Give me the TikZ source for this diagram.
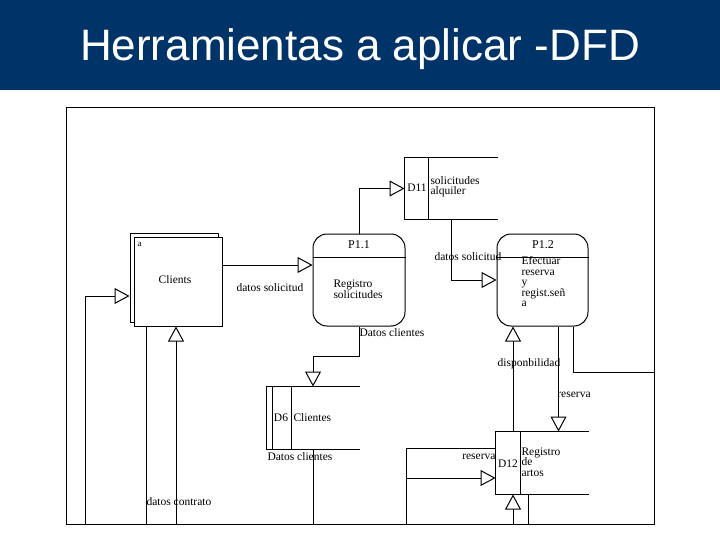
\documentclass[tikz,border=0pt]{standalone}
\usepackage{fontspec}
\setmainfont{Liberation Serif}
\newfontfamily\titlefont{Liberation Sans}
\usetikzlibrary{arrows.meta}
\definecolor{titleblue}{RGB}{0,52,104}

\begin{document}
\begin{tikzpicture}[x=1pt,y=-1pt,line width=1pt,
    proc/.style={draw,rounded corners=14pt,minimum width=92pt,minimum height=92pt,inner sep=0pt},
    store/.style={inner sep=0pt,minimum width=92pt,minimum height=62pt},
    entity/.style={draw,fill=white,minimum width=88pt,minimum height=89pt,inner sep=0pt},
    flow/.style={-{Triangle[open,length=15pt,width=16pt]}},
    lbl/.style={font=\fontsize{11.5}{10.5}\selectfont,inner sep=0pt,align=left}]
  \useasboundingbox (0,0) rectangle (720,540);
  \fill[titleblue] (0,0) rectangle (720,90);
  \node[text=white,font=\titlefont\fontsize{44}{48}\selectfont,anchor=base] (title) at (360,61) {Herramientas a aplicar -DFD};
  \draw (66,108) rectangle (654,524);

  % entidad externa
  \node[entity] (cli_back) at (174,278) {};
  \node[entity] (cli) at (178,281.5) {};
  \node[lbl,font=\fontsize{9}{10}\selectfont,anchor=base west] (cli_a) at (137,247) {a};
  \node[lbl] (cli_name) at (175,280) {Clients};

  % procesos
  \node[proc] (p_11) at (359,280) {};
  \draw (p_11.west |- 0,257) -- (p_11.east |- 0,257);
  \node[lbl,font=\fontsize{12}{12}\selectfont] (p_11_id) at (359,245) {P1.1};
  \node[lbl,anchor=west] (p_11_txt) at (333,289) {Registro\\solicitudes};

  \node[proc,minimum width=91pt] (p_12) at (542.5,280) {};
  \draw (p_12.west |- 0,257) -- (p_12.east |- 0,257);
  \node[lbl,font=\fontsize{12}{12}\selectfont] (p_12_id) at (543,245) {P1.2};
  \node[lbl,anchor=west] (p_12_txt) at (521,282) {Efectuar\\reserva\\y\\regist.señ\\a};

  % almacenes
  \node[store,minimum height=61pt] (d_11) at (451,188.5) {};
  \draw (d_11.north east) -- (d_11.north west) -- (d_11.south west) -- (d_11.south east);
  \draw (428,0 |- d_11.north) -- (428,0 |- d_11.south);
  \node[lbl] (d_11_id) at (417,188) {D11};
  \node[lbl,anchor=west] (d_11_txt) at (430,186.5) {solicitudes\\alquiler};

  \node[store] (d_6) at (313,418) {};
  \draw (d_6.north east) -- (d_6.north west) -- (d_6.south west) -- (d_6.south east);
  \draw (272,0 |- d_6.north) -- (272,0 |- d_6.south);
  \draw (291,0 |- d_6.north) -- (291,0 |- d_6.south);
  \node[lbl] (d_6_id) at (281,418) {D6};
  \node[lbl,anchor=west] (d_6_txt) at (293,418) {Clientes};

  \node[store] (d_12) at (542,463) {};
  \draw (d_12.north east) -- (d_12.north west) -- (d_12.south west) -- (d_12.south east);
  \draw (520,0 |- d_12.north) -- (520,0 |- d_12.south);
  \node[lbl] (d_12_id) at (508,464) {D12};
  \node[lbl,anchor=west] (d_12_txt) at (521,462) {Registro\\de\\artos};

  % extremos libres en el marco
  \coordinate (cli_in) at (85,524);
  \coordinate (cli_out) at (146,524);
  \coordinate (cli_ret) at (176,524);
  \coordinate (d6_out) at (313,524);
  \coordinate (res_in) at (406,524);
  \coordinate (d12_in) at (513,524);
  \coordinate (d12_out) at (528,524);
  \coordinate (frame_r) at (654,372);

  % flujos
  \draw[flow] ([yshift=16.5pt]cli.east) -- ([yshift=16.5pt]cli.east -| p_11.west);
  \node[lbl] (lbl_sol1) at (270,288) {datos solicitud};
  \draw[flow] (p_11.north) |- (d_11.west);
  \draw[flow] (d_11.south) |- (p_12.west);
  \node[lbl] (lbl_sol2) at (468,257) {datos solicitud};
  \draw[flow] (p_11.south) -- ++(0,30) -| (d_6.north);
  \node[lbl,anchor=west] (lbl_cli1) at (359,333) {Datos clientes};
  \draw (d_6.south) -- (d6_out);
  \node[lbl,anchor=west] (lbl_cli2) at (267,457) {Datos clientes};

  \draw[flow] (cli_in) |- ([yshift=-18pt]cli_back.west);
  \draw (cli_out |- cli.south) -- (cli_out);
  \draw[flow] (cli_ret) -- (cli_ret |- cli.south);
  \node[lbl,anchor=west] (lbl_con) at (146,502) {datos contrato};

  \draw[flow] ([xshift=-29pt]d_12.north) -- ([xshift=-29pt]d_12.north |- p_12.south);
  \node[lbl] (lbl_disp) at (529,364) {disponbilidad};
  \draw[flow] ([xshift=16pt]p_12.south) -- ([xshift=16pt]p_12.south |- d_12.north);
  \node[lbl] (lbl_res1) at (574,395) {reserva};
  \draw ([xshift=30.5pt]p_12.south) |- (frame_r);

  \draw (res_in) |- ([yshift=15pt]d_12.west);
  \draw[flow] ([yshift=-15pt]d_12.west -| res_in) -- ([yshift=-15pt]d_12.west);
  \node[lbl,anchor=east] (lbl_res2) at (496,457) {reserva};
  \draw[flow] (d12_in) -- (d12_in |- d_12.south);
  \draw (d12_out |- d_12.south) -- (d12_out);
\end{tikzpicture}
\end{document}
